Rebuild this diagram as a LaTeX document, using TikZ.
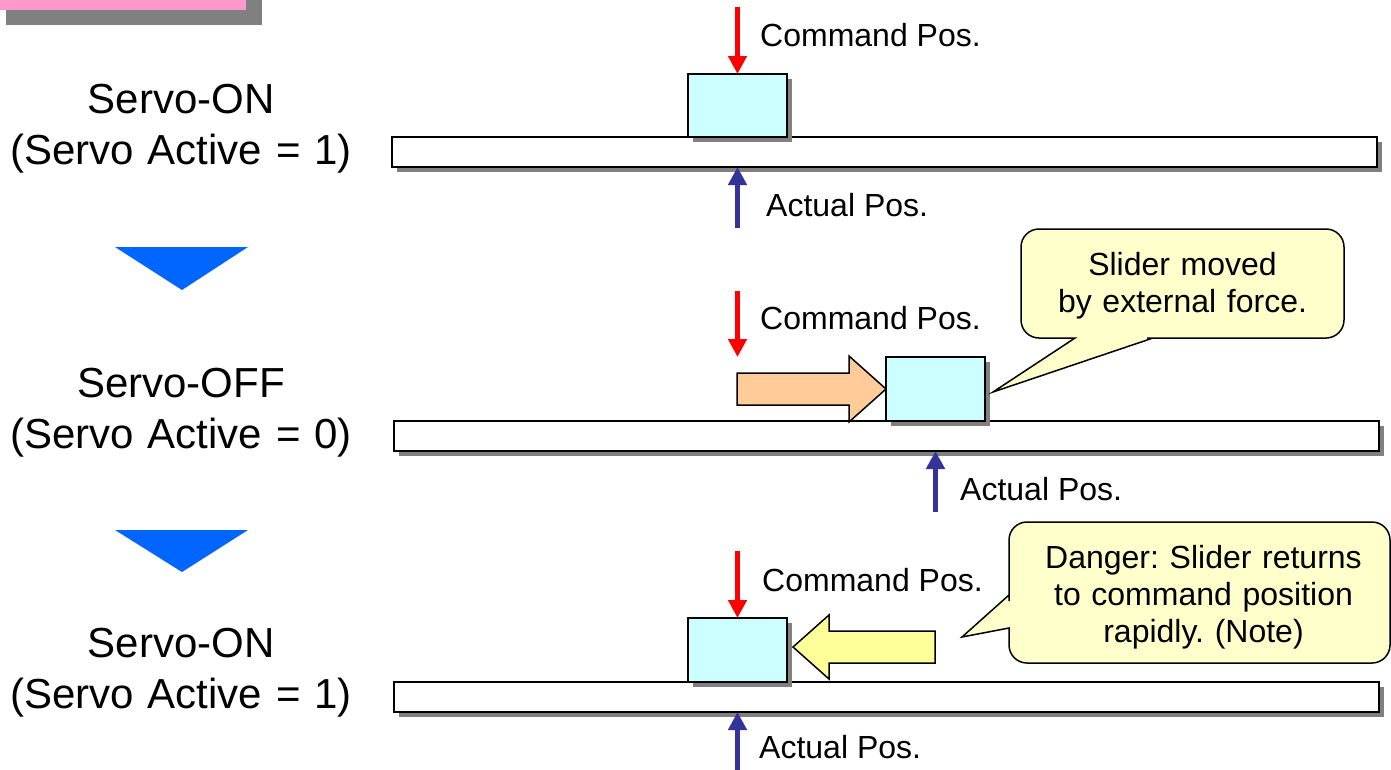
\documentclass[tikz,border=0pt]{standalone}
\usepackage{fontspec}
\setmainfont{Liberation Sans}
\usetikzlibrary{arrows.meta,shadows}
\frenchspacing

\definecolor{slidercyan}{HTML}{CCFFFF}
\definecolor{notefill}{HTML}{FFFFCC}
\definecolor{pushorange}{HTML}{FFCC99}
\definecolor{returnyellow}{HTML}{FFFF99}
\definecolor{stepblue}{HTML}{0066FF}
\definecolor{actualblue}{HTML}{333399}
\definecolor{titlepink}{HTML}{FF99CC}
\definecolor{shadowgray}{HTML}{808080}

\tikzset{
  boxshadow/.style={drop shadow={shadow xshift=5pt, shadow yshift=-5pt, fill=shadowgray, opacity=1}},
  rail/.style={draw=black, line width=2pt, fill=white, minimum width=985pt,
    minimum height=30pt, inner sep=0pt, outer sep=0pt, boxshadow},
  slider/.style={draw=black, line width=2pt, fill=slidercyan, minimum width=99pt,
    minimum height=64pt, inner sep=0pt, outer sep=0pt, boxshadow},
  cmdarrow/.style={draw=red, line width=5pt, -{Triangle[width=18pt,length=18pt]}},
  actarrow/.style={draw=actualblue, line width=5pt, -{Triangle[width=18pt,length=18pt]}},
  poslabel/.style={font=\fontsize{32}{36}\selectfont, anchor=base west, inner sep=0pt},
  statelabel/.style={font=\fontsize{42}{51}\selectfont, anchor=base, inner sep=0pt,
    text width=400pt, align=center},
  notetext/.style={font=\fontsize{32}{37}\selectfont, anchor=base, inner sep=0pt,
    text width=380pt, align=center},
  balloon/.style={draw=black, line width=1.5pt, fill=notefill},
  movearrow/.style={draw=black, line width=1.5pt, line join=miter},
  downmark/.style={fill=stepblue},
}

\begin{document}
\begin{tikzpicture}[x=1pt, y=-1pt]
\useasboundingbox (0,0) rectangle (1391,769);

% title tab in the corner
\fill[shadowgray] (6,-40) rectangle (262,25);
\fill[titlepink] (-10,-60) rectangle (246,10);

% state labels
\node[statelabel] (on1) at (181,113) {Servo-ON\\(Servo Active = 1)};
\node[statelabel] (off2) at (181,397) {Servo-OFF\\(Servo Active = 0)};
\node[statelabel] (on3) at (181,657) {Servo-ON\\(Servo Active = 1)};

% step markers
\fill[downmark] (115,247) -- (248,247) -- (182,290) -- cycle;
\fill[downmark] (115,530) -- (248,530) -- (182,572) -- cycle;

% rails
\node[rail] (rail1) at (884.5,152) {};
\node[rail] (rail2) at (886.5,436) {};
\node[rail] (rail3) at (886.5,697) {};

% sliders
\node[slider, minimum height=63pt] (blk1) at (737.5,105.5) {};
\node[slider] (blk2) at (935.5,389) {};
\node[slider] (blk3) at (737.5,650) {};

% command position arrows
\coordinate (cmd1) at (737.5,7);
\coordinate (cmd2) at (737.5,291);
\coordinate (cmdpt2) at (737.5,357);
\coordinate (cmd3) at (737.5,551);
\draw[cmdarrow] (cmd1) -- (blk1.north);
\draw[cmdarrow] (cmd2) -- (cmdpt2);
\draw[cmdarrow] (cmd3) -- (blk3.north);

% actual position arrows
\coordinate (act1) at (737.5,228);
\coordinate (act2) at (935.5,512);
\coordinate (act3) at (737.5,775);
\draw[actarrow] (act1) -- (blk1.center |- rail1.south);
\draw[actarrow] (act2) -- (blk2.center |- rail2.south);
\draw[actarrow] (act3) -- (blk3.center |- rail3.south);

% position labels
\node[poslabel] (cmdlab1) at (760,46) {Command Pos.};
\node[poslabel] (actlab1) at (766,216) {Actual Pos.};
\node[poslabel] (cmdlab2) at (760,329) {Command Pos.};
\node[poslabel] (actlab2) at (960,500) {Actual Pos.};
\node[poslabel] (cmdlab3) at (762,591) {Command Pos.};
\node[poslabel] (actlab3) at (759,758) {Actual Pos.};

% slider pushed by external force
\draw[movearrow, fill=pushorange] (737,373) -- (849,373) -- (849,356) -- (blk2.west)
  -- (849,422) -- (849,405) -- (737,405) -- cycle;

% slider snapping back to the command position
\draw[movearrow, fill=returnyellow] (793,647) -- (829,615) -- (829,631) -- (935,631)
  -- (935,663) -- (829,663) -- (829,679) -- cycle;

% note balloons
\coordinate (n1tip) at (993,392);
\draw[balloon] (n1tip) -- (1075,338) -- (1045,338) [rounded corners=18pt]
  -- (1021,338) -- (1021,229) -- (1344,229) -- (1344,338) -- (1165,338)
  [sharp corners] -- (1153,338) -- cycle;
\node[notetext] (note1) at (1182.5,275) {Slider moved\\by external force.};

\coordinate (n2tip) at (962,637);
\draw[balloon] (n2tip) -- (1009,628) -- (1009,640) [rounded corners=18pt]
  -- (1009,663) -- (1390,663) -- (1390,522) -- (1009,522) -- (1009,583)
  [sharp corners] -- (1009,595) -- cycle;
\node[notetext] (note2) at (1203.5,568) {Danger: Slider returns\\to command position\\rapidly. (Note)};
\end{tikzpicture}
\end{document}
